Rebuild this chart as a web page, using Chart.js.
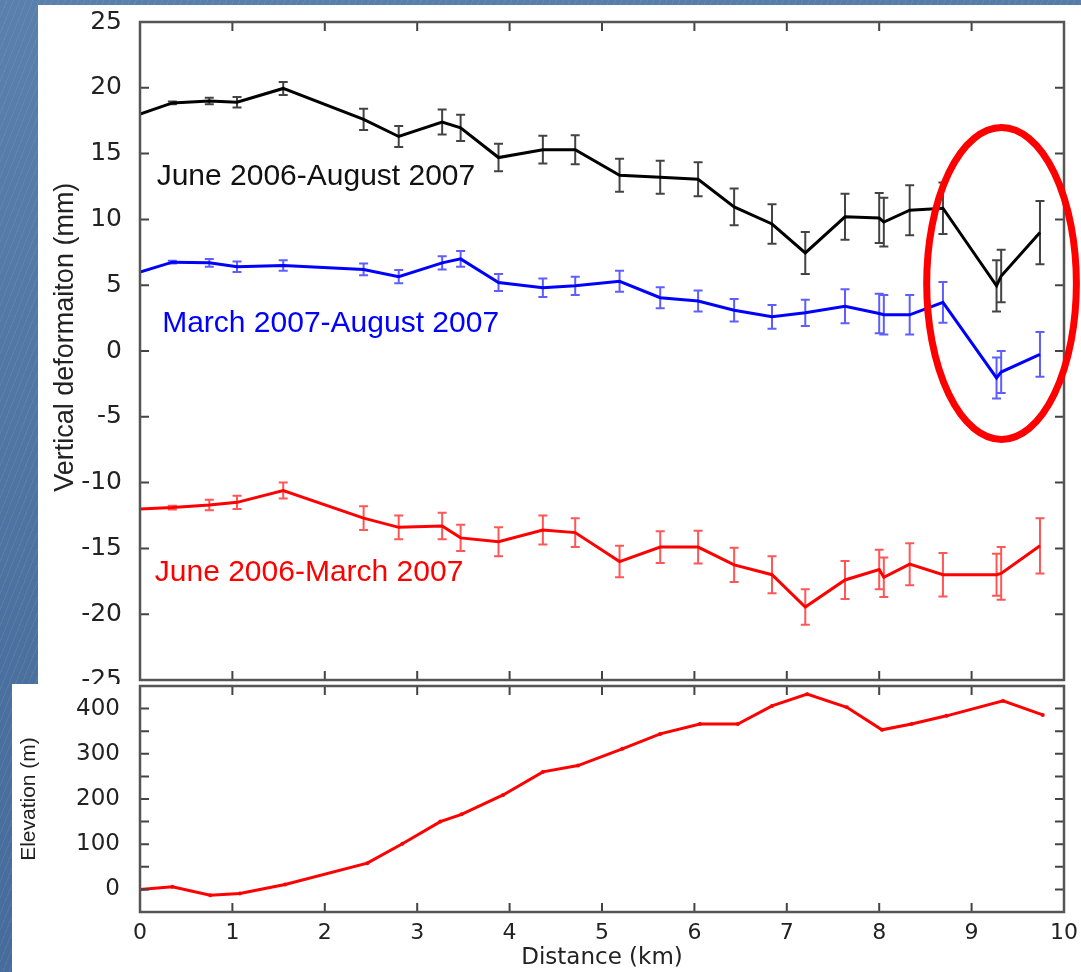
<!DOCTYPE html>
<html><head><meta charset="utf-8">
<script src="https://cdn.jsdelivr.net/npm/chart.js@4.4.1/dist/chart.umd.min.js"></script>
<style>
html,body{margin:0;padding:0;width:1081px;height:972px;overflow:hidden;}
body{position:relative;background-color:#4d73a2;
background-image:repeating-linear-gradient(112deg,rgba(255,255,255,0.07) 0px,rgba(255,255,255,0.07) 1px,rgba(0,0,0,0) 1px,rgba(0,0,0,0) 6px),
linear-gradient(170deg,#5a80ae 0%,#4b71a0 55%,#44699a 100%);}
#top{position:absolute;left:38px;top:5px;width:1043px;height:679px;background:#fff;overflow:hidden;}
#bot{position:absolute;left:12px;top:684px;width:1069px;height:288px;background:#fff;overflow:hidden;}
#c1{position:absolute;left:0;top:0;}
#c2{position:absolute;left:0;top:-12px;}
</style></head><body>
<div id="top"><canvas id="c1" width="1043" height="692"></canvas></div>
<div id="bot"><canvas id="c2" width="1069" height="300"></canvas></div>
<script>
// ---- data ----
const distance = [0, 0.35, 0.75, 1.05, 1.55, 2.42, 2.80, 3.27, 3.47, 3.88, 4.36, 4.71, 5.19, 5.63, 6.04, 6.43, 6.84, 7.20, 7.63, 8.00, 8.05, 8.33, 8.69, 9.27, 9.32, 9.74];
const junAug = [18.0, 18.85, 19.0, 18.9, 19.95, 17.6, 16.3, 17.4, 16.95, 14.7, 15.3, 15.3, 13.35, 13.2, 13.05, 10.95, 9.65, 7.45, 10.2, 10.1, 9.8, 10.7, 10.85, 4.95, 5.7, 9.0];
const junAugErr = [0, 0.1, 0.25, 0.4, 0.5, 0.8, 0.8, 0.95, 1.0, 1.05, 1.05, 1.1, 1.25, 1.25, 1.3, 1.4, 1.5, 1.6, 1.75, 1.9, 1.85, 1.9, 1.95, 1.95, 2.0, 2.4];
const marAug = [6.0, 6.75, 6.7, 6.4, 6.5, 6.2, 5.65, 6.7, 7.0, 5.2, 4.8, 4.95, 5.3, 4.05, 3.8, 3.1, 2.6, 2.9, 3.4, 2.85, 2.75, 2.75, 3.7, -2.05, -1.6, -0.25];
const marAugErr = [0, 0.1, 0.3, 0.4, 0.4, 0.45, 0.5, 0.5, 0.6, 0.65, 0.7, 0.7, 0.8, 0.8, 0.8, 0.85, 0.9, 1.0, 1.3, 1.5, 1.5, 1.5, 1.55, 1.55, 1.6, 1.7];
const junMar = [-12.0, -11.9, -11.7, -11.5, -10.6, -12.7, -13.4, -13.3, -14.2, -14.5, -13.6, -13.8, -16.0, -14.9, -14.9, -16.25, -17.0, -19.45, -17.4, -16.6, -17.2, -16.2, -17.0, -17.0, -16.9, -14.8];
const junMarErr = [0, 0.15, 0.4, 0.5, 0.6, 0.9, 0.9, 1.0, 1.0, 1.1, 1.1, 1.1, 1.2, 1.2, 1.25, 1.3, 1.4, 1.35, 1.45, 1.5, 1.5, 1.6, 1.65, 1.6, 2.0, 2.1];
const elevDistance = [0, 0.35, 0.76, 1.08, 1.57, 2.46, 2.84, 3.25, 3.48, 3.93, 4.36, 4.74, 5.22, 5.63, 6.06, 6.47, 6.84, 7.22, 7.65, 8.03, 8.35, 8.73, 9.34, 9.77];
const elevation = [0, 6, -13, -9, 11, 58, 101, 150, 166, 209, 260, 274, 311, 344, 366, 366, 406, 432, 403, 353, 366, 384, 417, 386];
const seriesNames = ['June 2006-August 2007', 'March 2007-August 2007', 'June 2006-March 2007'];
const deformTitle = 'Vertical deformaiton (mm)';
const deformTicks = [-25, -20, -15, -10, -5, 0, 5, 10, 15, 20, 25];
const distanceTicks = [0, 1, 2, 3, 4, 5, 6, 7, 8, 9, 10];
const elevTicks = [-50, 0, 50, 100, 150, 200, 250, 300, 350, 400, 450];
const elevLabels = [0, 100, 200, 300, 400];

const pts = (xs, ys) => xs.map((x, i) => ({x: x, y: ys[i]}));
const LIB = '"Liberation Sans", Arial, sans-serif';
const DJV = '"DejaVu Sans", sans-serif';

// ---- plugins ----
const frameTicks = {
  id: 'frameTicks',
  afterDraw(chart, args, o) {
    const {ctx, chartArea: a, scales: {x, y}} = chart;
    ctx.save();
    ctx.strokeStyle = '#444'; ctx.lineWidth = 2;
    ctx.beginPath();
    for (const v of o.xTicks) {
      const px = x.getPixelForValue(v);
      ctx.moveTo(px, a.top); ctx.lineTo(px, a.top + o.len);
      ctx.moveTo(px, a.bottom); ctx.lineTo(px, a.bottom - o.len);
    }
    for (const v of o.yTicks) {
      const py = y.getPixelForValue(v);
      ctx.moveTo(a.left, py); ctx.lineTo(a.left + o.len, py);
      ctx.moveTo(a.right, py); ctx.lineTo(a.right - o.len, py);
    }
    ctx.stroke();
    ctx.strokeStyle = '#555'; ctx.lineWidth = 2.5;
    ctx.strokeRect(a.left, a.top, a.right - a.left, a.bottom - a.top);
    ctx.restore();
  }
};
const errorBars = {
  id: 'errorBars',
  beforeDatasetsDraw(chart) {
    const {ctx, scales: {x, y}} = chart;
    ctx.save();
    chart.data.datasets.forEach(ds => {
      if (!ds.errors) return;
      ctx.strokeStyle = ds.errorColor; ctx.lineWidth = 2;
      ctx.beginPath();
      ds.data.forEach((p, i) => {
        const e = ds.errors[i];
        if (!e) return;
        const px = x.getPixelForValue(p.x);
        const y1 = y.getPixelForValue(p.y - e), y2 = y.getPixelForValue(p.y + e);
        ctx.moveTo(px, y1); ctx.lineTo(px, y2);
        ctx.moveTo(px - 4.5, y1); ctx.lineTo(px + 4.5, y1);
        ctx.moveTo(px - 4.5, y2); ctx.lineTo(px + 4.5, y2);
      });
      ctx.stroke();
    });
    ctx.restore();
  }
};
const annotate = {
  id: 'annotate',
  afterDraw(chart, args, o) {
    const {ctx, scales: {x, y}} = chart;
    ctx.save();
    ctx.font = '30px ' + LIB;
    ctx.textAlign = 'left'; ctx.textBaseline = 'alphabetic';
    o.labels.forEach(l => {
      ctx.fillStyle = l.color;
      ctx.fillText(l.text, x.getPixelForValue(l.x), y.getPixelForValue(l.y));
    });
    ctx.save();
    ctx.translate(28, y.getPixelForValue(o.titleAt));
    ctx.rotate(-Math.PI / 2);
    ctx.font = '27px ' + LIB; ctx.fillStyle = '#222';
    ctx.textAlign = 'center'; ctx.textBaseline = 'middle';
    ctx.fillText(o.title, 0, 0);
    ctx.restore();
    const e = o.ellipse;
    const cx = x.getPixelForValue(e.x), cy = y.getPixelForValue(e.y);
    const rx = x.getPixelForValue(e.x + e.rx) - cx, ry = cy - y.getPixelForValue(e.y + e.ry);
    ctx.strokeStyle = '#ff0000'; ctx.lineWidth = 7;
    ctx.beginPath(); ctx.ellipse(cx, cy, rx, ry, 0, 0, Math.PI * 2); ctx.stroke();
    ctx.restore();
  }
};

// ---- top chart ----
new Chart(document.getElementById('c1'), {
  type: 'line',
  data: {datasets: [
    {label: seriesNames[0], data: pts(distance, junAug), errors: junAugErr, borderColor: '#000', errorColor: 'rgba(20,20,20,0.8)', borderWidth: 3, pointRadius: 0, tension: 0},
    {label: seriesNames[1], data: pts(distance, marAug), errors: marAugErr, borderColor: '#0000ff', errorColor: 'rgba(40,40,255,0.75)', borderWidth: 3, pointRadius: 0, tension: 0},
    {label: seriesNames[2], data: pts(distance, junMar), errors: junMarErr, borderColor: '#ff0000', errorColor: 'rgba(255,30,30,0.75)', borderWidth: 3, pointRadius: 0, tension: 0}
  ]},
  options: {
    responsive: false, animation: false, devicePixelRatio: 1,
    layout: {padding: {top: 17, right: 17, bottom: 17, left: 0}},
    plugins: {
      legend: {display: false}, tooltip: {enabled: false},
      frameTicks: {xTicks: distanceTicks, yTicks: deformTicks, len: 9},
      annotate: {
        labels: [
          {text: seriesNames[0], color: '#111', x: 0.18, y: 12.6},
          {text: seriesNames[1], color: '#0000ff', x: 0.24, y: 1.44},
          {text: seriesNames[2], color: '#ff0000', x: 0.16, y: -17.46}
        ],
        title: deformTitle, titleAt: 1.05,
        ellipse: {x: 9.324, y: 5.13, rx: 0.81, ry: 11.85}
      }
    },
    scales: {
      x: {type: 'linear', min: 0, max: 10, display: false},
      y: {
        type: 'linear', min: -25, max: 25,
        afterBuildTicks(s) { s.ticks = deformTicks.map(v => ({value: v})); },
        ticks: {font: {family: DJV, size: 25}, color: '#222', padding: 0},
        grid: {display: true, drawOnChartArea: false, drawTicks: true, tickLength: 18, color: 'rgba(0,0,0,0)'},
        border: {display: false},
        title: {display: false},
        afterFit(s) { s.width = 102; }
      }
    }
  },
  plugins: [errorBars, frameTicks, annotate]
});

// ---- bottom chart ----
new Chart(document.getElementById('c2'), {
  type: 'line',
  data: {datasets: [
    {label: 'Elevation', data: pts(elevDistance, elevation), borderColor: '#ff0000', backgroundColor: '#ff0000', borderWidth: 3, pointRadius: 2, pointBorderWidth: 0, tension: 0}
  ]},
  options: {
    responsive: false, animation: false, devicePixelRatio: 1,
    layout: {padding: {top: 14, right: 17, bottom: 0, left: 0}},
    plugins: {legend: {display: false}, tooltip: {enabled: false},
      frameTicks: {xTicks: distanceTicks, yTicks: elevTicks, len: 9}},
    scales: {
      x: {
        type: 'linear', min: 0, max: 10,
        afterBuildTicks(s) { s.ticks = distanceTicks.map(v => ({value: v})); },
        ticks: {font: {family: DJV, size: 22}, color: '#222', padding: 0, maxRotation: 0},
        grid: {display: true, drawOnChartArea: false, drawTicks: true, tickLength: 8, color: 'rgba(0,0,0,0)'},
        border: {display: false},
        title: {display: true, text: 'Distance (km)', font: {family: DJV, size: 23}, color: '#222', padding: {top: 0, bottom: 0}},
        afterFit(s) { s.height = 60; }
      },
      y: {
        type: 'linear', min: -50, max: 450,
        afterBuildTicks(s) { s.ticks = elevLabels.map(v => ({value: v})); },
        ticks: {font: {family: DJV, size: 23}, color: '#222', padding: 0},
        grid: {display: true, drawOnChartArea: false, drawTicks: true, tickLength: 20, color: 'rgba(0,0,0,0)'},
        border: {display: false},
        title: {display: true, text: 'Elevation (m)', font: {family: LIB, size: 21}, color: '#222', padding: {top: 5, bottom: 0}},
        afterFit(s) { s.width = 128; }
      }
    }
  },
  plugins: [frameTicks]
});
</script>
</body></html>
